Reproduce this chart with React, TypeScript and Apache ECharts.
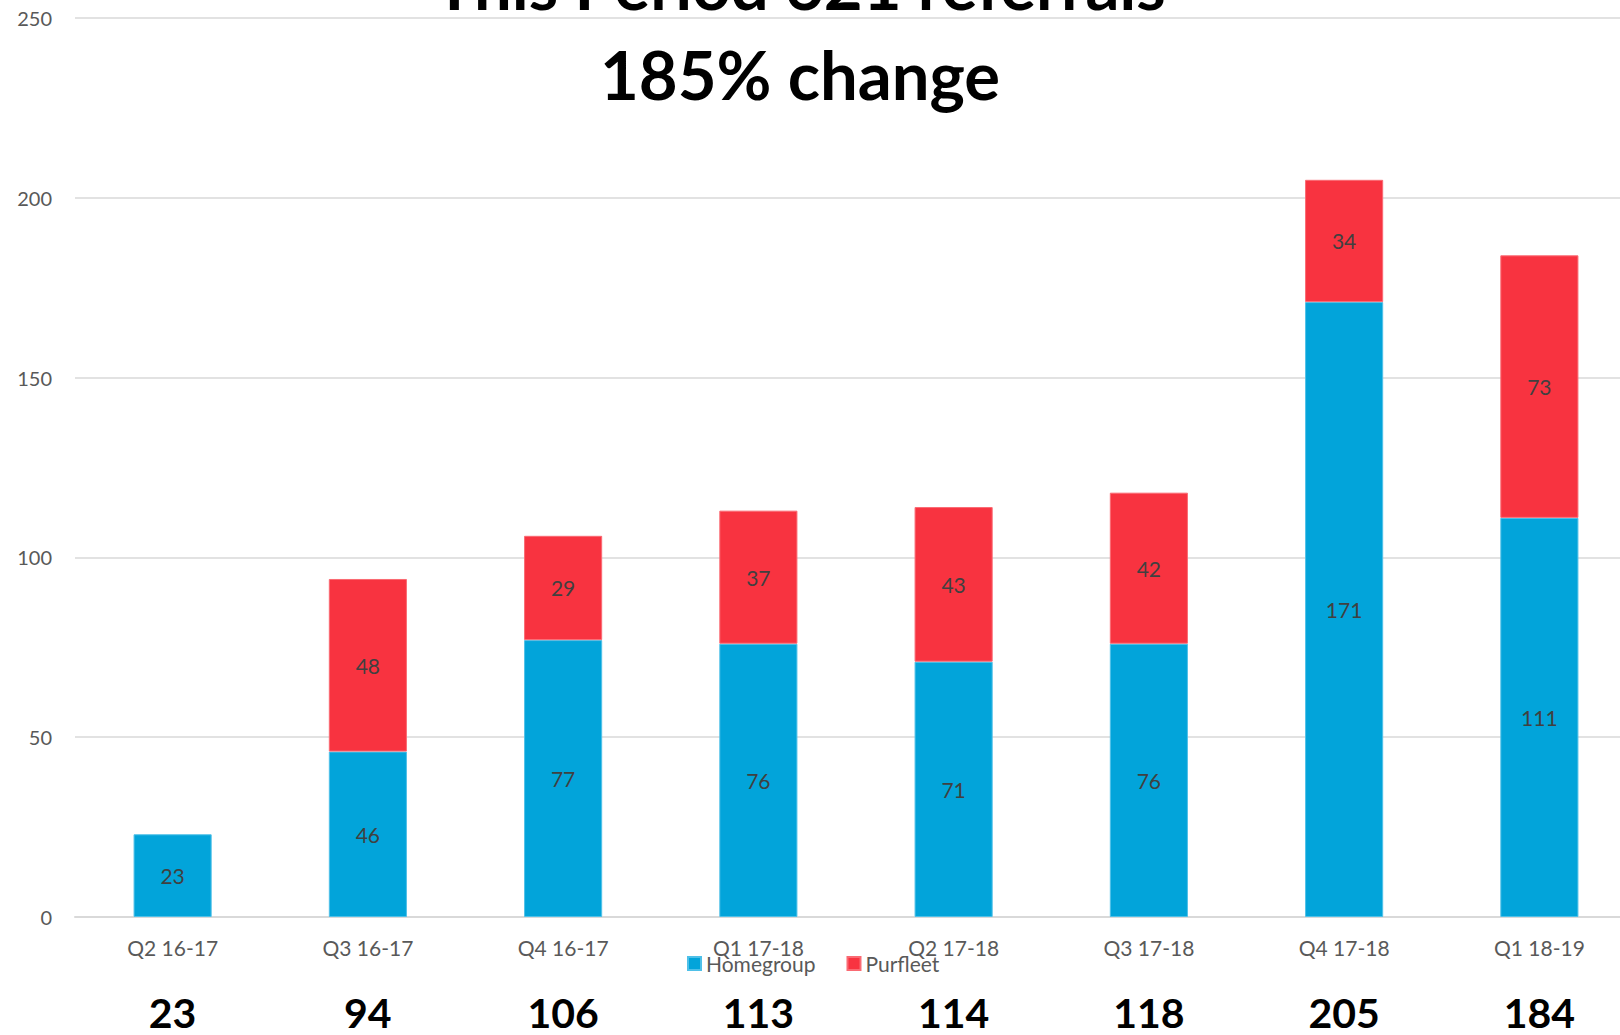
import React, { useEffect, useRef } from "react";
import * as echarts from "echarts";

const categories = ["Q2 16-17", "Q3 16-17", "Q4 16-17", "Q1 17-18", "Q2 17-18", "Q3 17-18", "Q4 17-18", "Q1 18-19"];
const homegroup = [23, 46, 77, 76, 71, 76, 171, 111];
const purfleet: (number | null)[] = [null, 48, 29, 37, 43, 42, 34, 73];
const seriesNames = ["Homegroup", "Purfleet"];
const colors = ["#02A4DA", "#F83340"];

const totals = categories.map((_, i) => homegroup[i] + (purfleet[i] ?? 0));
const thisPeriod = totals.slice(4).reduce((a, b) => a + b, 0);
const lastPeriod = totals.slice(0, 4).reduce((a, b) => a + b, 0);
const changePct = Math.round((thisPeriod / lastPeriod) * 100);

const FONT = "Lato, 'Open Sans', sans-serif";

export default function App() {
  const ref = useRef<HTMLDivElement>(null);
  useEffect(() => {
    if (!ref.current) return;
    const chart = echarts.init(ref.current, undefined, { renderer: "svg" });
    const label = {
      show: true,
      position: "inside" as const,
      color: "#404040",
      fontSize: 21,
      fontFamily: FONT,
    };
    chart.setOption({
      animation: false,
      backgroundColor: "#ffffff",
      textStyle: { fontFamily: FONT },
      grid: {
        left: 75,
        top: 18,
        bottom: 118,
        width: 1562,
        containLabel: false,
        outerBoundsMode: "none",
      },
      legend: {
        data: seriesNames,
        left: 682,
        top: 948,
        itemWidth: 13,
        itemHeight: 13,
        itemGap: 31,
        icon: "rect",
        textStyle: { color: "#595959", fontSize: 21, fontFamily: FONT },
      },
      graphic: [
        {
          type: "text",
          x: 800,
          y: -16,
          style: {
            text: `This Period ${thisPeriod} referrals`,
            fill: "#000000",
            font: `bold 67px ${FONT}`,
            align: "center",
            verticalAlign: "middle",
          },
        },
        {
          type: "text",
          x: 800,
          y: 74,
          style: {
            text: `${changePct}% change`,
            fill: "#000000",
            font: `bold 67px ${FONT}`,
            align: "center",
            verticalAlign: "middle",
          },
        },
      ],
      xAxis: [
        {
          type: "category",
          data: categories,
          axisLine: { lineStyle: { color: "#D9D9D9", width: 2 } },
          axisTick: { show: false },
          axisLabel: { color: "#595959", fontSize: 21, fontFamily: FONT, margin: 20 },
        },
        {
          type: "category",
          position: "bottom",
          data: totals.map(String),
          axisLine: { show: false },
          axisTick: { show: false },
          axisLabel: {
            color: "#000000",
            fontSize: 41,
            fontWeight: "bold",
            fontFamily: FONT,
            lineHeight: 40,
            margin: 75,
          },
        },
      ],
      yAxis: {
        type: "value",
        min: 0,
        max: 250,
        interval: 50,
        axisLine: { show: false },
        axisTick: { show: false },
        axisLabel: { color: "#595959", fontSize: 20, fontFamily: FONT, margin: 23 },
        splitLine: { lineStyle: { color: "#D9D9D9", width: 1.5 } },
      },
      series: [
        {
          name: seriesNames[0],
          type: "bar",
          stack: "total",
          data: homegroup,
          barWidth: "40%",
          itemStyle: { color: colors[0], borderColor: "#4FC0E8", borderWidth: 1 },
          label,
        },
        {
          name: seriesNames[1],
          type: "bar",
          stack: "total",
          data: purfleet,
          barWidth: "40%",
          itemStyle: { color: colors[1], borderColor: "#FA6A73", borderWidth: 1 },
          label,
        },
      ],
    });
    return () => chart.dispose();
  }, []);
  return (
    <div
      ref={ref}
      style={{ position: "fixed", left: 0, top: 0, width: 1620, height: 1035 }}
    />
  );
}
